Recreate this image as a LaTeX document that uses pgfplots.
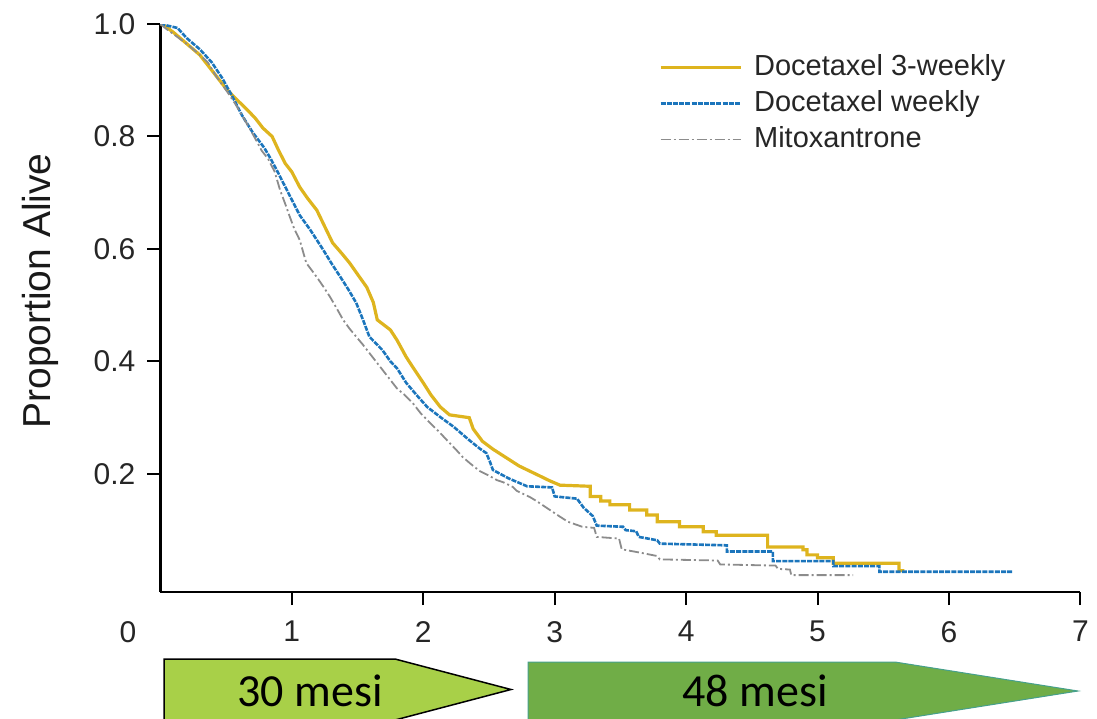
\documentclass[border=0pt]{standalone}
\usepackage{fontspec}
\setmainfont{Liberation Sans}
\newfontfamily\calibri{Carlito}
\usepackage{pgfplots}
\usepackage{pgfplotstable}
\pgfplotsset{compat=1.18}

\definecolor{docthree}{RGB}{222,180,30}
\definecolor{docweek}{RGB}{27,117,188}
\definecolor{mitox}{RGB}{140,140,140}
\definecolor{arrowA}{RGB}{168,208,72}
\definecolor{arrowB}{RGB}{112,173,71}
\definecolor{arrowBline}{RGB}{70,160,140}

% Kaplan-Meier curves (years, proportion alive);
% the tails are given as explicit steps
\pgfplotstableread{
x y
0 1.000
0.03 0.997
0.10 0.985
0.20 0.965
0.30 0.945
0.40 0.915
0.50 0.885
0.57 0.868
0.65 0.850
0.72 0.833
0.78 0.815
0.85 0.800
0.90 0.775
0.95 0.752
1.00 0.737
1.06 0.710
1.12 0.690
1.19 0.669
1.25 0.640
1.31 0.611
1.38 0.592
1.44 0.575
1.50 0.555
1.57 0.532
1.62 0.505
1.65 0.474
1.70 0.465
1.75 0.456
1.80 0.438
1.87 0.408
1.92 0.390
2.00 0.362
2.06 0.340
2.13 0.319
2.20 0.305
2.35 0.300
2.38 0.280
2.45 0.258
2.53 0.244
2.61 0.232
2.73 0.214
2.81 0.205
2.89 0.196
2.96 0.188
3.04 0.180
3.27 0.178
3.27 0.160
3.35 0.160
3.35 0.152
3.42 0.152
3.42 0.145
3.57 0.145
3.57 0.136
3.70 0.136
3.70 0.127
3.78 0.127
3.78 0.115
3.95 0.115
3.95 0.106
4.13 0.106
4.13 0.097
4.23 0.097
4.23 0.091
4.62 0.091
4.62 0.070
4.89 0.070
4.89 0.065
4.92 0.065
4.92 0.056
5.00 0.056
5.00 0.051
5.12 0.051
5.12 0.041
5.62 0.041
5.62 0.028
5.66 0.028
}\docthree

\pgfplotstableread{
x y
0 1.000
0.13 0.993
0.20 0.975
0.30 0.955
0.39 0.932
0.47 0.904
0.55 0.870
0.62 0.838
0.70 0.808
0.79 0.780
0.84 0.760
0.89 0.738
0.94 0.715
0.99 0.692
1.06 0.660
1.14 0.634
1.24 0.598
1.30 0.575
1.37 0.550
1.43 0.528
1.49 0.504
1.54 0.475
1.59 0.444
1.69 0.420
1.75 0.400
1.80 0.388
1.87 0.362
1.95 0.340
2.03 0.319
2.13 0.301
2.23 0.284
2.30 0.270
2.35 0.260
2.43 0.245
2.48 0.237
2.51 0.220
2.53 0.207
2.65 0.192
2.79 0.178
2.98 0.176
3.00 0.160
3.17 0.156
3.22 0.140
3.29 0.125
3.32 0.108
3.52 0.106
3.54 0.100
3.62 0.098
3.64 0.088
3.78 0.082
3.80 0.076
4.31 0.073
4.31 0.062
4.66 0.062
4.66 0.045
5.12 0.045
5.12 0.036
5.47 0.036
5.47 0.026
6.48 0.026
}\docweek

\pgfplotstableread{
x y
0 1.000
0.035 0.993
0.10 0.982
0.21 0.963
0.30 0.945
0.36 0.932
0.43 0.905
0.51 0.879
0.57 0.858
0.62 0.838
0.67 0.818
0.72 0.797
0.77 0.775
0.82 0.760
0.87 0.737
0.91 0.705
0.95 0.680
0.985 0.657
1.02 0.635
1.06 0.616
1.11 0.575
1.19 0.550
1.24 0.533
1.29 0.515
1.34 0.495
1.39 0.474
1.44 0.458
1.49 0.444
1.54 0.430
1.59 0.415
1.64 0.400
1.69 0.385
1.74 0.370
1.80 0.352
1.86 0.340
1.92 0.326
1.98 0.308
2.05 0.291
2.12 0.275
2.18 0.260
2.25 0.243
2.30 0.230
2.36 0.218
2.43 0.205
2.50 0.197
2.56 0.189
2.61 0.185
2.68 0.177
2.71 0.170
2.81 0.159
2.86 0.152
2.95 0.138
3.04 0.124
3.10 0.115
3.21 0.106
3.30 0.104
3.32 0.088
3.49 0.085
3.51 0.066
3.65 0.060
3.78 0.054
3.80 0.048
4.24 0.046
4.26 0.039
4.68 0.037
4.70 0.031
4.79 0.030
4.80 0.020
5.27 0.020
}\mitox

\begin{document}
\begin{tikzpicture}
% picture frame in pixel units, origin top left
\begin{scope}[x=0.5pt,y=-0.5pt]
\useasboundingbox (0,0) rectangle (1097,718);
\clip (0,0) rectangle (1097,718);
\filldraw[fill=arrowA, draw=black, line width=0.75pt]
  (164,659) -- (395,659) -- (511,689.5) -- (395,720) -- (164,720) -- cycle;
\node[font=\calibri\fontsize{23}{27}\selectfont, anchor=base, inner sep=0pt, text depth=0pt] at (310,706) {30 mesi};
\filldraw[fill=arrowB, draw=arrowBline, line width=0.5pt]
  (528,662) -- (895,662) -- (1078,691) -- (895,720) -- (528,720) -- cycle;
\node[font=\calibri\fontsize{23}{27}\selectfont, anchor=base, inner sep=0pt, text depth=0pt] at (755,706) {48 mesi};
\node[rotate=90, font=\fontsize{19.5}{23}\selectfont, text=black!90] at (40,291) {Proportion Alive};
\node[font=\fontsize{15}{18}\selectfont, text=black!85] at (128,632) {0};
\end{scope}

\begin{axis}[
    at={(80.2pt,-296pt)},
    anchor=south west,
    scale only axis,
    width=460pt,
    height=284pt,
    xmin=0, xmax=7,
    ymin=-0.01, ymax=1.0,
    axis x line=bottom,
    axis y line=left,
    axis line style={-, line width=1.4pt},
    tick align=outside,
    major tick length=6.5pt,
    tick style={line width=1pt, black},
    xtick={1,2,3,4,5,6,7},
    xticklabels={1,2,3,4,5,6,7},
    ytick={0.2,0.4,0.6,0.8,1.0},
    yticklabels={0.2,0.4,0.6,0.8,1.0},
    /pgf/number format/assume math mode=true,
    tick label style={font=\fontsize{15}{18}\selectfont, text=black!85},
    xticklabel style={yshift=-4.5pt},
    yticklabel style={xshift=-2.5pt},
    legend image code/.code={\draw[#1] (0pt,0pt) -- (40pt,0pt);},
    legend cell align=left,
    legend style={
        at={(axis cs:3.79,0.952)}, anchor=north west,
        draw=none, fill=none, inner sep=0pt,
        font=\fontsize{14.5}{17}\selectfont,
        row sep=2pt, column sep=5pt,
        nodes={inner sep=1pt, text height=11pt, text depth=3pt, text=black!85},
    },
]
\addplot[color=docthree, line width=1.6pt] table {\docthree};
\addlegendentry{Docetaxel 3-weekly}
\addplot[color=docweek, line width=1.3pt, dash pattern=on 2.5pt off 0.6pt] table {\docweek};
\addlegendentry{Docetaxel weekly}
\addplot[color=mitox, line width=0.9pt, dash pattern=on 5pt off 1.5pt on 1pt off 1.5pt] table {\mitox};
\addlegendentry{Mitoxantrone}
\end{axis}
\end{tikzpicture}
\end{document}
